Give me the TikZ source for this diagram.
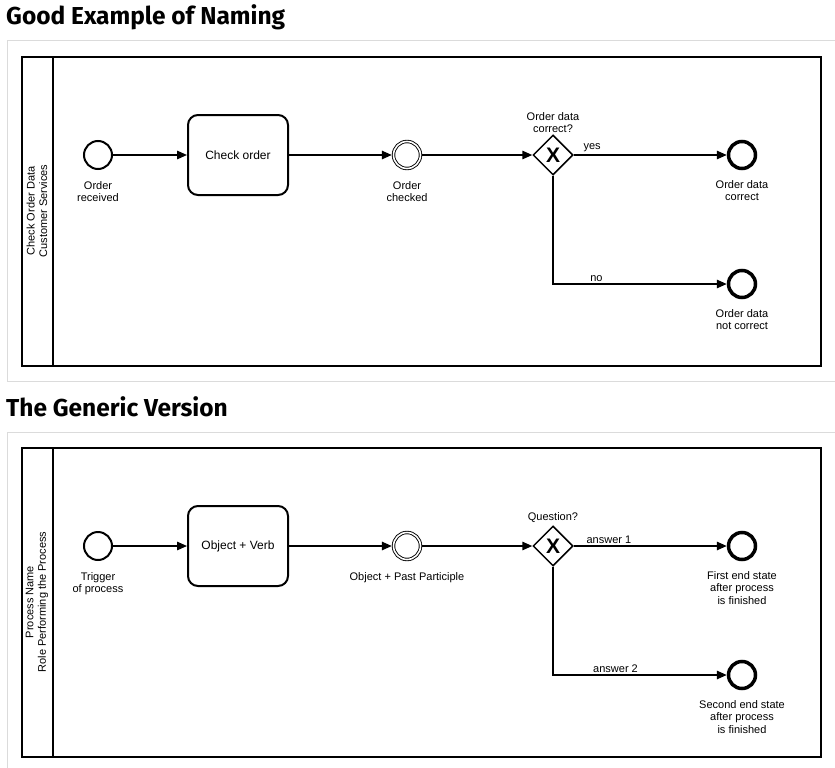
\documentclass[tikz,border=0pt]{standalone}
\usepackage{fontspec}
\setmainfont{Liberation Sans}
\newfontfamily\headfont{Fira Sans}
\usetikzlibrary{positioning,shapes.geometric,arrows.meta}

\begin{document}
\begin{tikzpicture}[x=1pt, y=-1pt,
    every node/.style={font=\fontsize{11}{12.5}\selectfont},
    title/.style={font=\headfont\bfseries\fontsize{24.5}{28}\selectfont, inner sep=0pt, anchor=base west},
    frame/.style={draw=black!14, line width=1pt},
    pool/.style={draw, line width=2pt},
    lanelbl/.style={rotate=90, align=center, inner sep=0pt},
    startev/.style={circle, draw, line width=2pt, minimum size=28pt, inner sep=0pt},
    midev/.style={circle, draw, double, double distance=1.6pt, line width=0.9pt, minimum size=27pt, inner sep=0pt, outer sep=1.7pt},
    endev/.style={circle, draw, line width=3.5pt, minimum size=27pt, inner sep=0pt},
    task/.style={draw, rounded corners=10pt, line width=2pt, minimum width=100pt, minimum height=80pt, font=\fontsize{12}{14}\selectfont},
    gateway/.style={diamond, draw, line width=1.5pt, minimum width=40pt, minimum height=40pt, inner sep=0pt, font=\bfseries\fontsize{21}{21}\selectfont},
    lbl/.style={align=center, inner sep=1pt},
    answer/.style={above, inner sep=2pt},
    flow/.style={line width=1.5pt, -{Triangle[length=10pt,width=8.5pt]}}
  ]
  \useasboundingbox (0,0) rectangle (835,768);

  % first example
  \node[title] (head1) at (6,25) {Good Example of Naming};
  \draw[frame] (840,41) -- (7,41) -- (7,381) -- (840,381);
  \draw[pool] (22,57) rectangle (821,366);
  \draw[pool] (53,57) -- (53,366);
  \node[lanelbl] (lane1) at (37,211) {Check Order Data\\Customer Services};

  \node[startev] (start1) at (98,155) {};
  \node[task] (task1) at (238,155) {Check order};
  \node[midev] (mid1) at (407,155) {};
  \node[gateway] (gate1) at (553,155) {X};
  \node[endev] (endA1) at (742,155) {};
  \node[endev] (endB1) at (742,284) {};

  \node[lbl, below=10pt of start1] (start1l) {Order\\received};
  \node[lbl, below=10pt of mid1] (mid1l) {Order\\checked};
  \node[lbl, above=0pt of gate1] (gate1l) {Order data\\correct?};
  \node[lbl, below=9pt of endA1] (endA1l) {Order data\\correct};
  \node[lbl, below=9pt of endB1] (endB1l) {Order data\\not correct};

  \draw[flow] (start1) -- (task1);
  \draw[flow] (task1) -- (mid1);
  \draw[flow] (mid1) -- (gate1);
  \draw[flow] (gate1) -- (endA1) node[answer, pos=0.12] {yes};
  \draw[flow] (gate1.south) |- (endB1) node[answer, pos=0.625] {no};

  % generic version
  \node[title] (head2) at (6,416) {The Generic Version};
  \draw[frame] (840,432) -- (7,432) -- (7,780);
  \draw[pool] (22,448) rectangle (821,757);
  \draw[pool] (53,448) -- (53,757);
  \node[lanelbl] (lane2) at (37,602) {Process Name\\Role Performing the Process};

  \node[startev] (start2) at (98,546) {};
  \node[task] (task2) at (238,546) {Object + Verb};
  \node[midev] (mid2) at (407,546) {};
  \node[gateway] (gate2) at (553,546) {X};
  \node[endev] (endA2) at (742,546) {};
  \node[endev] (endB2) at (742,675) {};

  \node[lbl, below=10pt of start2] (start2l) {Trigger\\of process};
  \node[lbl, below=10pt of mid2] (mid2l) {Object + Past Participle};
  \node[lbl, above=1pt of gate2] (gate2l) {Question?};
  \node[lbl, below=9pt of endA2] (endA2l) {First end state\\after process\\is finished};
  \node[lbl, below=9pt of endB2] (endB2l) {Second end state\\after process\\is finished};

  \draw[flow] (start2) -- (task2);
  \draw[flow] (task2) -- (mid2);
  \draw[flow] (mid2) -- (gate2);
  \draw[flow] (gate2) -- (endA2) node[answer, pos=0.23] {answer 1};
  \draw[flow] (gate2.south) |- (endB2) node[answer, pos=0.68] {answer 2};
\end{tikzpicture}
\end{document}
